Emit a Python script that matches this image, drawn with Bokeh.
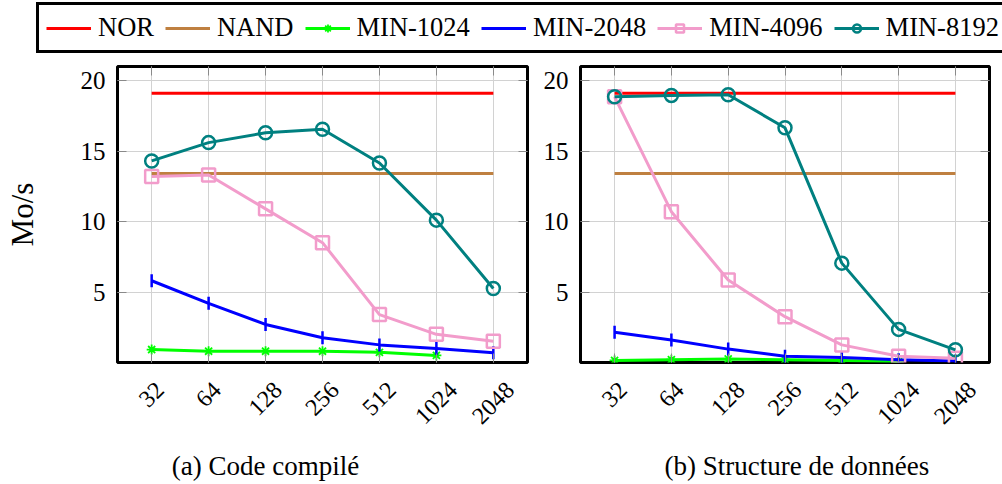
from math import pi

from bokeh.core.properties import value
from bokeh.embed import file_html
from bokeh.layouts import column, row
from bokeh.models import (ColumnDataSource, FixedTicker, Legend, LegendItem, LinearAxis,
                          Range1d)
from bokeh.plotting import figure
from bokeh.resources import INLINE

# ---------------------------------------------------------------- data
block_sizes = ["32", "64", "128", "256", "512", "1024", "2048"]

# (a) compiled code, throughput in Mo/s
a_nor = [19.1, 19.1, 19.1, 19.1, 19.1, 19.1, 19.1]
a_nand = [13.4, 13.4, 13.4, 13.4, 13.4, 13.4, 13.4]
a_min1024 = [0.92, 0.8, 0.8, 0.8, 0.72, 0.5]
a_min2048 = [5.8, 4.2, 2.7, 1.75, 1.25, 1.0, 0.7]
a_min4096 = [13.2, 13.3, 10.9, 8.5, 3.4, 2.0, 1.5]
a_min8192 = [14.3, 15.6, 16.3, 16.55, 14.15, 10.1, 5.25]

# (b) data structure, throughput in Mo/s
b_nor = [19.1, 19.1, 19.1, 19.1, 19.1, 19.1, 19.1]
b_nand = [13.4, 13.4, 13.4, 13.4, 13.4, 13.4, 13.4]
b_min1024 = [0.15, 0.2, 0.25, 0.2, 0.15, 0.05]
b_min2048 = [2.15, 1.6, 0.95, 0.45, 0.35, 0.2, 0.1]
b_min4096 = [18.85, 10.7, 5.85, 3.25, 1.25, 0.45, 0.3]
b_min8192 = [18.85, 18.95, 19.0, 16.65, 7.05, 2.35, 0.9]

series_names = ["NOR", "NAND", "MIN-1024", "MIN-2048", "MIN-4096", "MIN-8192"]
y_ticks = [5, 10, 15, 20]

# ---------------------------------------------------------------- styles
FONT = "Liberation Serif"
STYLE = {
    "NOR": dict(color="#ff0000", marker=None),
    "NAND": dict(color="#bf8040", marker=None),
    "MIN-1024": dict(color="#00ff00", marker="asterisk", size=10, angle=0.0, lw=1.8),
    "MIN-2048": dict(color="#0000ff", marker="dash", size=13, angle=pi / 2, lw=2.5),
    "MIN-4096": dict(color="#f29ccb", marker="square", size=13, angle=0.0, lw=2.5),
    "MIN-8192": dict(color="#008080", marker="circle", size=13, angle=0.0, lw=2.5),
}
LINE_W = 3

# vertical layout (pixels)
LEGEND_H = 58
PLOT_TOP = 8
FRAME_H = 296
PLOT_BOTTOM = 4
PANEL_H = PLOT_TOP + FRAME_H + PLOT_BOTTOM
STRIP_H = 484 - LEGEND_H - PANEL_H
STRIP_TOP = LEGEND_H + PANEL_H
TICK_FS = 24
TICK_TOP = 380        # top of the rotated tick labels
CAPTION_Y = 465       # centre line of the captions


def draw_series(fig, name, ys):
    st = STYLE[name]
    src = ColumnDataSource(dict(x=list(range(len(ys))), y=ys))
    rs = [fig.line("x", "y", source=src, line_color=st["color"], line_width=LINE_W)]
    if st["marker"]:
        rs.append(fig.scatter("x", "y", source=src, marker=st["marker"], size=st["size"],
                              angle=st["angle"], line_color=st["color"],
                              line_width=st["lw"], fill_color=None))
    return rs


def style_ticks(ax, hide_labels):
    ax.axis_line_color = None
    ax.major_tick_in = 9
    ax.major_tick_out = 0
    ax.minor_tick_line_color = None
    ax.major_tick_line_color = "#8a8a8a"
    ax.major_tick_line_width = 1
    if hide_labels:
        ax.major_label_text_font_size = "0px"
        ax.major_label_standoff = 0


def to_strip_y(px):
    """absolute page y (from top) -> data y of the label strip (0 at its bottom)"""
    return STRIP_H - (px - STRIP_TOP)


def make_panel(caption, caption_x, series, width, border_left, border_right, ylabel):
    p = figure(width=width, height=PANEL_H, x_range=Range1d(-0.6, 6.6),
               y_range=Range1d(0, 21), output_backend="svg", toolbar_location=None,
               min_border_left=border_left, min_border_right=border_right,
               min_border_top=PLOT_TOP, min_border_bottom=PLOT_BOTTOM)
    p.outline_line_color = "black"
    p.outline_line_width = 3
    p.background_fill_color = "white"
    p.border_fill_color = "white"

    xt = FixedTicker(ticks=list(range(len(block_sizes))))
    yt = FixedTicker(ticks=y_ticks)
    p.xaxis.ticker = xt
    p.yaxis.ticker = yt
    p.xgrid.ticker = xt
    p.ygrid.ticker = yt
    p.grid.grid_line_color = "#d2d2d2"
    p.grid.grid_line_width = 1

    style_ticks(p.xaxis[0], True)
    style_ticks(p.yaxis[0], False)
    p.xaxis.major_label_overrides = {i: "" for i in range(len(block_sizes))}

    p.yaxis.major_label_text_font = FONT
    p.yaxis.major_label_text_font_size = "25px"
    p.yaxis.major_label_text_color = "black"
    p.yaxis.major_label_standoff = 12
    if ylabel:
        p.yaxis.axis_label = ylabel
        p.yaxis.axis_label_text_font = FONT
        p.yaxis.axis_label_text_font_size = "31px"
        p.yaxis.axis_label_text_font_style = "normal"
        p.yaxis.axis_label_text_color = "black"
        p.yaxis.axis_label_standoff = 38

    # mirrored ticks on the right and top edges of the frame
    ax_r = LinearAxis(ticker=yt, major_label_overrides={t: "" for t in y_ticks})
    ax_t = LinearAxis(ticker=xt,
                      major_label_overrides={i: "" for i in range(len(block_sizes))})
    style_ticks(ax_r, True)
    style_ticks(ax_t, True)
    p.add_layout(ax_r, "right")
    p.add_layout(ax_t, "above")

    for name, ys in zip(series_names, series):
        draw_series(p, name, ys)

    # strip below the frame: rotated block sizes and the caption
    s = figure(width=width, height=STRIP_H, x_range=p.x_range, y_range=Range1d(0, STRIP_H),
               output_backend="svg", toolbar_location=None,
               min_border_left=border_left, min_border_right=border_right,
               min_border_top=0, min_border_bottom=0, outline_line_color=None)
    s.axis.visible = False
    s.grid.visible = False

    def centre(t):
        w = 0.5 * TICK_FS * len(t)
        h = 0.68 * TICK_FS
        return TICK_TOP + (w + h) * 0.354

    lab = ColumnDataSource(dict(x=list(range(len(block_sizes))),
                                y=[to_strip_y(centre(t)) for t in block_sizes],
                                text=block_sizes))
    s.text("x", "y", text="text", source=lab, angle=pi / 4, text_align="center",
           text_baseline="middle", text_font=value(FONT),
           text_font_size=f"{TICK_FS}px", text_color="black")
    s.text(x=[caption_x], y=[to_strip_y(CAPTION_Y)], text=[caption], text_align="center",
           text_baseline="middle", text_font=value(FONT), text_font_size="27px",
           text_color="black")
    return column(p, s, spacing=0)


col_a = make_panel("(a) Code compilé", 2.0,
                   [a_nor, a_nand, a_min1024, a_min2048, a_min4096, a_min8192],
                   width=540, border_left=117, border_right=13, ylabel="Mo/s")
col_b = make_panel("(b) Structure de données", 3.21,
                   [b_nor, b_nand, b_min1024, b_min2048, b_min4096, b_min8192],
                   width=462, border_left=39, border_right=13, ylabel=None)

# ---------------------------------------------------------------- shared legend
# The legend strip re-uses the series of panel (a); its ranges keep them out of view
# so only the legend box is visible.
leg = figure(width=1002, height=LEGEND_H, x_range=Range1d(0, 1), y_range=Range1d(-3, -2),
             output_backend="svg", toolbar_location=None,
             min_border=0, outline_line_color=None)
leg.axis.visible = False
leg.grid.visible = False
items = []
for name, ys in zip(series_names, [a_nor, a_nand, a_min1024, a_min2048, a_min4096, a_min8192]):
    items.append(LegendItem(label=name, renderers=draw_series(leg, name, ys)))
legend = Legend(items=items, orientation="horizontal", location=(36, 5),
                border_line_color="black", border_line_width=3, border_line_alpha=1,
                background_fill_color="white", background_fill_alpha=1,
                label_text_font=FONT, label_text_font_size="26.5px",
                label_text_color="black",
                glyph_width=45, glyph_height=20, label_standoff=7, spacing=11,
                padding=7, margin=0)
leg.add_layout(legend)

layout = column(leg, row(col_a, col_b, spacing=0), spacing=0)
open("out.html", "w").write(file_html(layout, INLINE))
